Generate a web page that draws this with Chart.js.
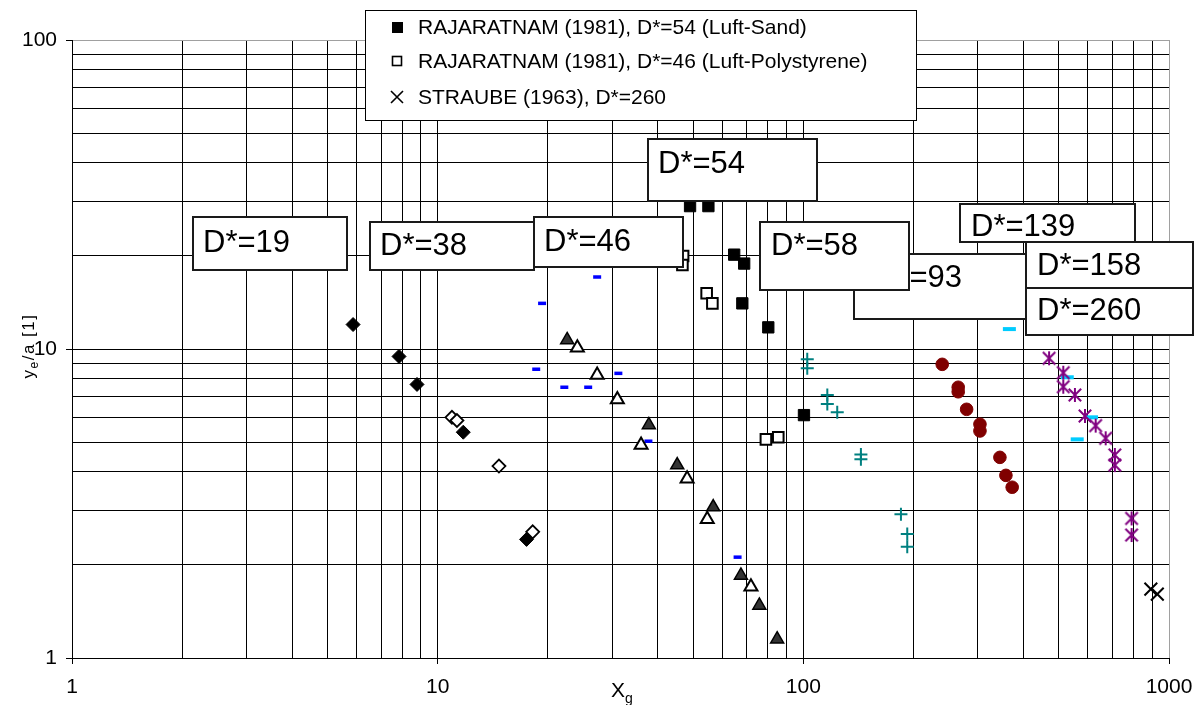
<!DOCTYPE html>
<html><head><meta charset="utf-8">
<script src="https://cdn.jsdelivr.net/npm/chart.js@4.4.0/dist/chart.umd.min.js"></script>
<style>html,body{margin:0;padding:0;background:#fff}#wrap{width:1204px;height:705px;position:relative}</style>
</head><body><div id="wrap"><canvas id="c" width="1204" height="705"></canvas></div>
<script>
// ---------- data ----------
const xFilledDiamond = [5.87, 7.84, 8.78, 11.75, 17.5];
const yFilledDiamond = [12.0, 9.46, 7.68, 5.38, 2.42];
const xOpenDiamond = [10.94, 11.29, 14.71, 18.19];
const yOpenDiamond = [6.01, 5.87, 4.18, 2.56];
const xFilledTri = [22.6, 37.8, 45.2, 56.7, 67.5, 75.8, 84.8];
const yFilledTri = [10.7, 5.68, 4.21, 3.08, 1.85, 1.48, 1.15];
const xOpenTri = [24.1, 27.3, 31.0, 36.0, 48.1, 54.6, 71.9];
const yOpenTri = [10.1, 8.24, 6.87, 4.89, 3.80, 2.81, 1.70];
const xBlueDash = [27.3, 19.3, 18.6, 31.2, 22.2, 25.8, 37.7, 66.1];
const yBlueDash = [17.1, 14.05, 8.60, 8.34, 7.52, 7.52, 5.03, 2.12];
const xSand = [49.0, 55.0, 64.7, 68.9, 68.1, 80.2, 100.4];
const ySand = [29.0, 29.0, 20.2, 18.9, 14.05, 11.75, 6.11];
const xPoly = [46.9, 46.7, 54.4, 56.4, 79.0, 85.4];
const yPoly = [20.0, 18.7, 15.15, 14.05, 5.10, 5.18];
const xTealPlus = [102.5, 102.5, 116.3, 116.3, 123.8, 143.7, 143.7, 184.9, 192.4, 192.4];
const yTealPlus = [9.26, 8.66, 7.10, 6.64, 6.24, 4.56, 4.40, 2.92, 2.52, 2.29];
const xRedCircle = [239.8, 265.2, 265.2, 279.6, 304.1, 304.1, 344.8, 358.1, 372.5];
const yRedCircle = [8.92, 7.52, 7.27, 6.38, 5.71, 5.43, 4.46, 3.90, 3.57];
const xPurpleStar = [470, 514, 514, 553, 589, 630, 671, 711, 711, 790, 790];
const yPurpleStar = [9.33, 8.38, 7.55, 7.10, 6.07, 5.65, 5.14, 4.54, 4.21, 2.83, 2.50];
const xCyanDash = [366, 527, 614, 561];
const yCyanDash = [11.6, 8.10, 6.01, 5.10];
const xStraube = [892, 929];
const yStraube = [1.67, 1.61];

const xGridValues = [1,2,3,4,5,6,7,8,9,10,20,30,40,50,60,70,80,90,100,200,300,400,500,600,700,800,900,1000];
const yGridValues = [1,2,3,4,5,6,7,8,9,10,20,30,40,50,60,70,80,90,100];
const xTickLabels = [1, 10, 100, 1000];
const yTickLabels = [1, 10, 100];

const legendLabels = ['RAJARATNAM (1981), D*=54 (Luft-Sand)', 'RAJARATNAM (1981), D*=46 (Luft-Polystyrene)', 'STRAUBE (1963), D*=260'];
const boxLabels = ['D*=19','D*=38','D*=46','D*=54','D*=93','D*=58','D*=139','D*=158','D*=260'];
const xTitle = ['X', 'g'];
const yTitle = ['y', 'e', '/a [1]'];

// ---------- layout / styles ----------
const FONT = '"Liberation Sans", Arial, sans-serif';
const boxLayout = [
  {x:193, y:217, w:154, h:53, tx:203, ty:252},
  {x:370, y:222, w:164, h:48, tx:380, ty:255},
  {x:534, y:217, w:149, h:50, tx:544, ty:251},
  {x:648, y:139, w:169, h:62, tx:658, ty:173},
  {x:854, y:254, w:190, h:65, tx:875, ty:287},
  {x:760, y:222, w:149, h:68, tx:771, ty:255},
  {x:960, y:204, w:175, h:38, tx:971, ty:236},
  {x:1026, y:242, w:167, h:46, tx:1037, ty:275},
  {x:1026, y:288, w:167, h:47, tx:1037, ty:320}
];

function makeAsterisk(color, size, lw) {
  const c = document.createElement('canvas'); c.width = c.height = size;
  const g = c.getContext('2d'); g.strokeStyle = color; g.lineWidth = lw;
  const m = size / 2, r = 7, d = 6.2;
  g.beginPath();
  g.moveTo(m - d, m - d); g.lineTo(m + d, m + d);
  g.moveTo(m + d, m - d); g.lineTo(m - d, m + d);
  g.moveTo(m, m - r); g.lineTo(m, m + r);
  g.stroke();
  return c;
}
const asterisk = makeAsterisk('#800080', 18, 2);

const pts = (xs, ys) => xs.map((x, i) => ({x: x, y: ys[i]}));

function ds(xs, ys, o) {
  return Object.assign({data: pts(xs, ys), showLine: false, pointHoverRadius: o.pointRadius}, o);
}

const datasets = [
  ds(xStraube, yStraube, {pointStyle:'crossRot', pointRadius:9, borderColor:'#000', backgroundColor:'#000', borderWidth:2}),
  ds(xSand, ySand, {pointStyle:'rect', pointRadius:8, borderColor:'#000', backgroundColor:'#000', borderWidth:1}),
  ds(xPoly, yPoly, {pointStyle:'rect', pointRadius:7.5, borderColor:'#000', backgroundColor:'#fff', borderWidth:2}),
  ds(xFilledDiamond, yFilledDiamond, {pointStyle:'rectRot', pointRadius:7, borderColor:'#000', backgroundColor:'#000', borderWidth:1}),
  ds(xOpenDiamond, yOpenDiamond, {pointStyle:'rectRot', pointRadius:6.5, borderColor:'#000', backgroundColor:'#fff', borderWidth:1.8}),
  ds(xFilledTri, yFilledTri, {pointStyle:'triangle', pointRadius:7.5, borderColor:'#000', backgroundColor:'#333', borderWidth:1.5}),
  ds(xOpenTri, yOpenTri, {pointStyle:'triangle', pointRadius:7.5, borderColor:'#000', backgroundColor:'#fff', borderWidth:2}),
  ds(xBlueDash, yBlueDash, {pointStyle:'line', pointRadius:4, borderColor:'#0000FF', backgroundColor:'#0000FF', borderWidth:3.5}),
  ds(xTealPlus, yTealPlus, {pointStyle:'cross', pointRadius:6.5, borderColor:'#008080', backgroundColor:'#008080', borderWidth:2}),
  ds(xRedCircle, yRedCircle, {pointStyle:'circle', pointRadius:6.3, borderColor:'#800000', backgroundColor:'#800000', borderWidth:1}),
  ds(xPurpleStar, yPurpleStar, {pointStyle:asterisk, pointRadius:7, borderColor:'#800080', backgroundColor:'#800080', borderWidth:2}),
  ds(xCyanDash, yCyanDash, {pointStyle:'line', pointRadius:6.5, borderColor:'#00CCFF', backgroundColor:'#00CCFF', borderWidth:4})
];

const overlay = {
  id: 'overlay',
  afterDraw(chart) {
    const ctx = chart.ctx;
    ctx.save();
    // annotation boxes
    boxLayout.forEach((b, i) => {
      ctx.fillStyle = '#fff'; ctx.fillRect(b.x, b.y, b.w, b.h);
      ctx.lineWidth = 2; ctx.strokeStyle = '#1a1a1a'; ctx.strokeRect(b.x, b.y, b.w, b.h);
      ctx.fillStyle = '#000'; ctx.font = '31px ' + FONT;
      ctx.textAlign = 'left'; ctx.textBaseline = 'alphabetic';
      ctx.fillText(boxLabels[i], b.tx, b.ty);
    });
    // legend
    ctx.fillStyle = '#fff'; ctx.fillRect(365.5, 10.5, 551, 110);
    ctx.lineWidth = 1; ctx.strokeStyle = '#000'; ctx.strokeRect(365.5, 10.5, 551, 110);
    const rowsY = [27, 61, 97];
    ctx.fillStyle = '#000'; ctx.fillRect(392, 22, 11, 11);
    ctx.fillStyle = '#fff'; ctx.strokeStyle = '#000'; ctx.lineWidth = 1.6;
    ctx.fillRect(392.5, 56.5, 9, 9); ctx.strokeRect(392.5, 56.5, 9, 9);
    ctx.lineWidth = 1.6; ctx.beginPath();
    ctx.moveTo(391, 91); ctx.lineTo(403, 103); ctx.moveTo(403, 91); ctx.lineTo(391, 103); ctx.stroke();
    ctx.fillStyle = '#000'; ctx.font = '21px ' + FONT; ctx.textBaseline = 'middle';
    legendLabels.forEach((t, i) => ctx.fillText(t, 418, rowsY[i] + 1));
    // x title
    ctx.textBaseline = 'alphabetic';
    const big = '21px ' + FONT, small = '14px ' + FONT;
    ctx.font = big; const wX = ctx.measureText(xTitle[0]).width;
    ctx.font = small; const wg = ctx.measureText(xTitle[1]).width;
    let x0 = 622 - (wX + wg) / 2;
    ctx.font = big; ctx.fillText(xTitle[0], x0, 697);
    ctx.font = small; ctx.fillText(xTitle[1], x0 + wX, 703);
    // y title rotated
    const yb = '17px ' + FONT, ys = '12px ' + FONT;
    ctx.translate(34, 346); ctx.rotate(-Math.PI / 2);
    if ('letterSpacing' in ctx) ctx.letterSpacing = '1.5px';
    ctx.font = yb; const w1 = ctx.measureText(yTitle[0]).width, w3 = ctx.measureText(yTitle[2]).width;
    ctx.font = ys; const w2 = ctx.measureText(yTitle[1]).width;
    let s = -(w1 + w2 + w3) / 2;
    ctx.font = yb; ctx.fillText(yTitle[0], s, 0);
    ctx.font = ys; ctx.fillText(yTitle[1], s + w1, 4);
    ctx.font = yb; ctx.fillText(yTitle[2], s + w1 + w2, 0);
    ctx.restore();
  }
};

new Chart(document.getElementById('c'), {
  type: 'scatter',
  data: {datasets: datasets},
  options: {
    responsive: false, animation: false, devicePixelRatio: 1,
    layout: {padding: {left: 0, top: 40, right: 35, bottom: 0}},
    plugins: {legend: {display: false}, tooltip: {enabled: false}},
    scales: {
      x: {
        type: 'logarithmic', min: 1, max: 1000,
        afterFit: s => { s.height = 47; },
        afterBuildTicks: s => { s.ticks = xGridValues.map(v => ({value: v})); },
        border: {color: '#000', width: 1},
        grid: {
          color: c => (c.tick && c.tick.value === 1000) ? '#a0a0a0' : '#000',
          lineWidth: 1, tickLength: 6,
          tickColor: c => (c.tick && xTickLabels.includes(c.tick.value)) ? '#000' : 'rgba(0,0,0,0)'
        },
        ticks: {
          autoSkip: false, maxRotation: 0, padding: 11, color: '#000',
          font: {family: FONT, size: 21},
          callback: v => xTickLabels.includes(v) ? String(v) : ''
        }
      },
      y: {
        type: 'logarithmic', min: 1, max: 100,
        afterFit: s => { s.width = 72; },
        afterBuildTicks: s => { s.ticks = yGridValues.map(v => ({value: v})); },
        border: {color: '#000', width: 1},
        grid: {
          color: c => (c.tick && c.tick.value === 100) ? '#a0a0a0' : '#000',
          lineWidth: 1, tickLength: 6,
          tickColor: c => (c.tick && yTickLabels.includes(c.tick.value)) ? '#000' : 'rgba(0,0,0,0)'
        },
        ticks: {
          autoSkip: false, padding: 9, color: '#000',
          font: {family: FONT, size: 21},
          callback: v => yTickLabels.includes(v) ? String(v) : ''
        }
      }
    }
  },
  plugins: [overlay]
});
</script></body></html>
